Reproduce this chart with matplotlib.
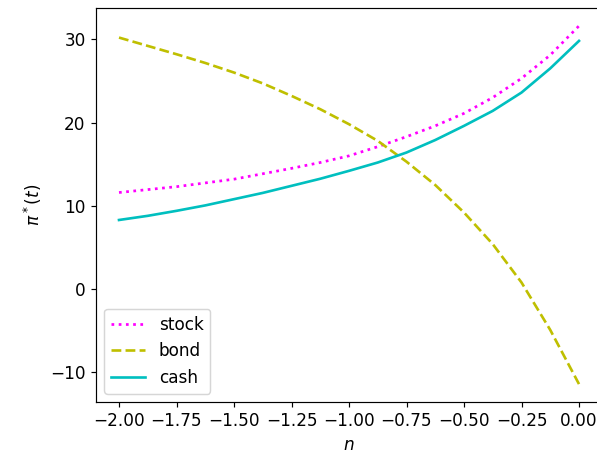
import matplotlib
matplotlib.use("Agg")
import matplotlib.pyplot as plt

# optimal allocation vs n
n = [-2.0, -1.875, -1.75, -1.625, -1.5, -1.375, -1.25, -1.125, -1.0,
     -0.875, -0.75, -0.625, -0.5, -0.375, -0.25, -0.125, 0.0]
stock = [11.6, 11.95, 12.3, 12.75, 13.2, 13.85, 14.5, 15.2, 16.0,
         17.1, 18.3, 19.6, 21.1, 23.0, 25.3, 28.1, 31.6]
bond = [30.2, 29.2, 28.2, 27.15, 26.0, 24.7, 23.2, 21.6, 19.8,
        17.8, 15.3, 12.5, 9.2, 5.4, 0.8, -4.9, -11.4]
cash = [8.3, 8.8, 9.4, 10.05, 10.8, 11.55, 12.4, 13.25, 14.2,
        15.2, 16.4, 17.9, 19.6, 21.4, 23.6, 26.5, 29.8]

plt.rcParams['font.size'] = 11.5

dpi = 106
fig = plt.figure(figsize=(597 / dpi, 456 / dpi), dpi=dpi)
ax = fig.add_axes([96 / 597, 54 / 456, 506 / 597, 394 / 456])

ax.plot(n, stock, color='magenta', linestyle=':', linewidth=1.85, label='stock')
ax.plot(n, bond, color='y', linestyle='--', linewidth=1.8, label='bond')
ax.plot(n, cash, color='c', linestyle='-', linewidth=1.8, label='cash')

ax.set_xticks([-2.0, -1.75, -1.5, -1.25, -1.0, -0.75, -0.5, -0.25, 0.0])
ax.set_xlabel('$n$')
ax.set_ylabel('$\\pi^*(t)$')
ax.legend(loc='lower left')

fig.savefig('out.png', dpi=dpi)
